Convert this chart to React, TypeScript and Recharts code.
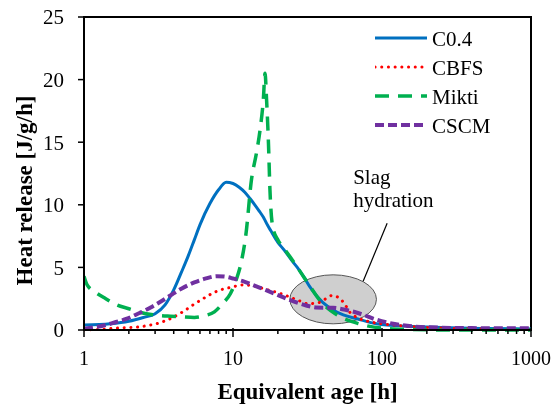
import React from "react";
import {
  LineChart,
  Line,
  XAxis,
  YAxis,
  Legend,
  ReferenceArea,
  ReferenceDot,
} from "recharts";

// Heat release rate vs equivalent age, four binder mixes, log time axis.
const C04_AGE = [1, 1.5, 2, 2.5, 3, 3.5, 4, 4.5, 5, 5.5, 6, 7, 8, 9, 10, 11, 12, 13, 14, 15, 16, 17, 18, 20, 22, 25, 27, 30, 33, 40, 47, 55, 68, 92, 150, 250, 500, 1000];
const C04_HEAT = [0.4, 0.5, 0.7, 1.0, 1.3, 2.0, 3.2, 4.6, 5.9, 7.2, 8.4, 10.1, 11.2, 11.8, 11.7, 11.4, 11.0, 10.5, 10.0, 9.5, 9.0, 8.4, 7.9, 7.0, 6.4, 5.5, 5.0, 4.2, 3.4, 2.2, 1.6, 1.2, 0.9, 0.5, 0.3, 0.2, 0.12, 0.08];

const CBFS_AGE = [1, 1.3, 1.66, 2.26, 2.8, 3.07, 3.78, 4.6, 5.55, 6.1, 7.8, 9.6, 11.8, 14, 16, 21, 27, 32, 38, 42, 46, 51, 56, 61, 68, 80, 100, 150, 200, 400, 1000];
const CBFS_HEAT = [0, 0.05, 0.15, 0.23, 0.4, 0.5, 0.9, 1.45, 2.1, 2.4, 3.1, 3.4, 3.6, 3.5, 3.3, 2.9, 2.4, 2.1, 2.2, 2.5, 2.75, 2.6, 2.1, 1.4, 1.0, 0.7, 0.5, 0.3, 0.2, 0.1, 0.05];

const MIKTI_AGE = [1, 1.05, 1.2, 1.4, 1.66, 2, 2.4, 3, 3.8, 4.5, 5.5, 6.5, 7.5, 8.5, 9.6, 10.5, 11.3, 12.2, 13.3, 14.4, 15.2, 16, 16.4, 16.8, 17.3, 17.7, 18.5, 20, 22, 25, 30, 40, 50, 70, 100, 150, 300, 1000];
const MIKTI_HEAT = [4.3, 3.6, 3.0, 2.5, 2.0, 1.7, 1.4, 1.2, 1.1, 1.05, 1.0, 1.15, 1.45, 2.1, 2.9, 4.0, 5.3, 7.6, 12.0, 14.2, 16.0, 18.5, 20.5, 18.4, 14.9, 11.2, 8.2, 7.2, 6.5, 5.6, 4.2, 2.1, 1.2, 0.5, 0.15, 0.05, 0, 0];

const CSCM_AGE = [1, 1.15, 1.36, 1.6, 1.94, 2.3, 2.8, 3.3, 3.8, 4.5, 5.5, 6.5, 7.8, 9, 10.1, 12, 13.8, 16.5, 19.6, 24, 31, 36, 47, 57.6, 71.4, 92, 119, 200, 400, 1000];
const CSCM_HEAT = [0.1, 0.2, 0.36, 0.6, 0.9, 1.3, 1.8, 2.3, 2.76, 3.3, 3.8, 4.1, 4.3, 4.25, 4.1, 3.85, 3.56, 3.2, 2.84, 2.4, 1.96, 1.8, 1.77, 1.6, 1.3, 0.82, 0.5, 0.22, 0.15, 0.13];

const X_TICKS = [1, 2, 3, 4, 5, 6, 7, 8, 9, 10, 20, 30, 40, 50, 60, 70, 80, 90, 100, 200, 300, 400, 500, 600, 700, 800, 900, 1000];
const X_LABELS = [1, 10, 100, 1000];
const Y_TICKS = [0, 5, 10, 15, 20, 25];

// annotation: ellipse over the slag hydration hump
const SLAG_AGE = 47;
const SLAG_HEAT = 2.45;

const zip = (ages: number[], vals: number[]) => ages.map((t, i) => ({ t, v: vals[i] }));

const SERIES = [
  { name: "C0.4", color: "#0070C0", width: 3, dash: undefined, cap: "butt", data: zip(C04_AGE, C04_HEAT) },
  { name: "CBFS", color: "#FF0000", width: 3, dash: "0.1 6.6", cap: "round", data: zip(CBFS_AGE, CBFS_HEAT) },
  { name: "Mikti", color: "#00B050", width: 3.5, dash: "14 9", cap: "butt", data: zip(MIKTI_AGE, MIKTI_HEAT) },
  { name: "CSCM", color: "#7030A0", width: 4, dash: "9 4", cap: "butt", data: zip(CSCM_AGE, CSCM_HEAT) },
];

const serif = { fontFamily: "'Liberation Serif', 'Times New Roman', Tinos, 'DejaVu Serif', serif" };

const XTick = ({ x, y, payload }: any) => {
  const major = X_LABELS.includes(payload.value);
  return (
    <g>
      <line x1={x} x2={x} y1={major ? y - 2 : y} y2={major ? y + 7 : y + 4} stroke="#000" strokeWidth={1.5} />
      {major && (
        <text x={x} y={y + 35} textAnchor="middle" style={serif} fontSize={20} fill="#000">
          {payload.value}
        </text>
      )}
    </g>
  );
};

const XTitle = ({ viewBox }: any) => (
  <text x={viewBox.x + viewBox.width / 2} y={viewBox.y + 69} textAnchor="middle" style={serif} fontWeight="bold" fontSize={23} fill="#000">
    Equivalent age [h]
  </text>
);

const YTitle = ({ viewBox }: any) => {
  const x = viewBox.x + 24;
  const y = viewBox.y + viewBox.height / 2 + 17;
  return (
    <text x={x} y={y} transform={`rotate(-90 ${x} ${y})`} textAnchor="middle" style={serif} fontWeight="bold" fontSize={23} fill="#000">
      Heat release [J/g/h]
    </text>
  );
};

const SlagNote = ({ cx, cy }: any) => (
  <g>
    <ellipse cx={cx} cy={cy} rx={43.3} ry={24.5} fill="#cfcfcf" stroke="#555" strokeWidth={1} />
    <line x1={cx + 30} y1={cy - 18} x2={cx + 54} y2={cy - 76} stroke="#000" strokeWidth={1.2} />
    <text x={cx + 20} y={cy - 115} style={serif} fontSize={21} fill="#000">Slag</text>
    <text x={cx + 20} y={cy - 92} style={serif} fontSize={21} fill="#000">hydration</text>
  </g>
);

const LegendBox = () => (
  <svg width={150} height={115}>
    {SERIES.map((s, i) => {
      const y = 14 + i * 29;
      return (
        <g key={s.name}>
          <line x1={0} x2={52} y1={y} y2={y} stroke={s.color} strokeWidth={s.width} strokeDasharray={s.dash} strokeLinecap={s.cap as any} />
          <text x={57} y={y + 8} style={serif} fontSize={21} fill="#000">{s.name}</text>
        </g>
      );
    })}
  </svg>
);

export default function App() {
  // fixed so the 8px body margin never makes the page scroll
  return (
    <div style={{ position: "fixed", top: 8, left: 8 }}>
      <LineChart width={549} height={399} margin={{ top: 9, right: 26, bottom: 7, left: 0 }}>
        <XAxis
          dataKey="t"
          type="number"
          scale="log"
          domain={[1, 1000]}
          allowDataOverflow
          ticks={X_TICKS}
          interval={0}
          tick={<XTick />}
          tickLine={false}
          tickSize={0}
          tickMargin={0}
          height={70}
          axisLine={{ stroke: "#000", strokeWidth: 2 }}
          label={<XTitle />}
        />
        <YAxis
          type="number"
          domain={[0, 25]}
          ticks={Y_TICKS}
          interval={0}
          width={76}
          tickSize={6}
          tickMargin={14}
          tick={{ style: serif, fontSize: 21, fill: "#000" }}
          tickLine={{ stroke: "#000", strokeWidth: 1.5 }}
          axisLine={{ stroke: "#000", strokeWidth: 2 }}
          label={<YTitle />}
        />
        <ReferenceArea x1={1} x2={1000} y1={0} y2={25} fill="none" stroke="#000" strokeWidth={2} />
        <ReferenceDot x={SLAG_AGE} y={SLAG_HEAT} shape={<SlagNote />} zIndex={100} />
        {SERIES.map((s) => (
          <Line
            key={s.name}
            data={s.data}
            dataKey="v"
            name={s.name}
            type="monotone"
            stroke={s.color}
            strokeWidth={s.width}
            strokeDasharray={s.dash}
            strokeLinecap={s.cap as any}
            dot={false}
            activeDot={false}
            isAnimationActive={false}
          />
        ))}
        <Legend
          layout="vertical"
          align="center"
          verticalAlign="middle"
          wrapperStyle={{ top: 16, left: 367, width: "auto" }}
          content={<LegendBox />}
        />
      </LineChart>
    </div>
  );
}
